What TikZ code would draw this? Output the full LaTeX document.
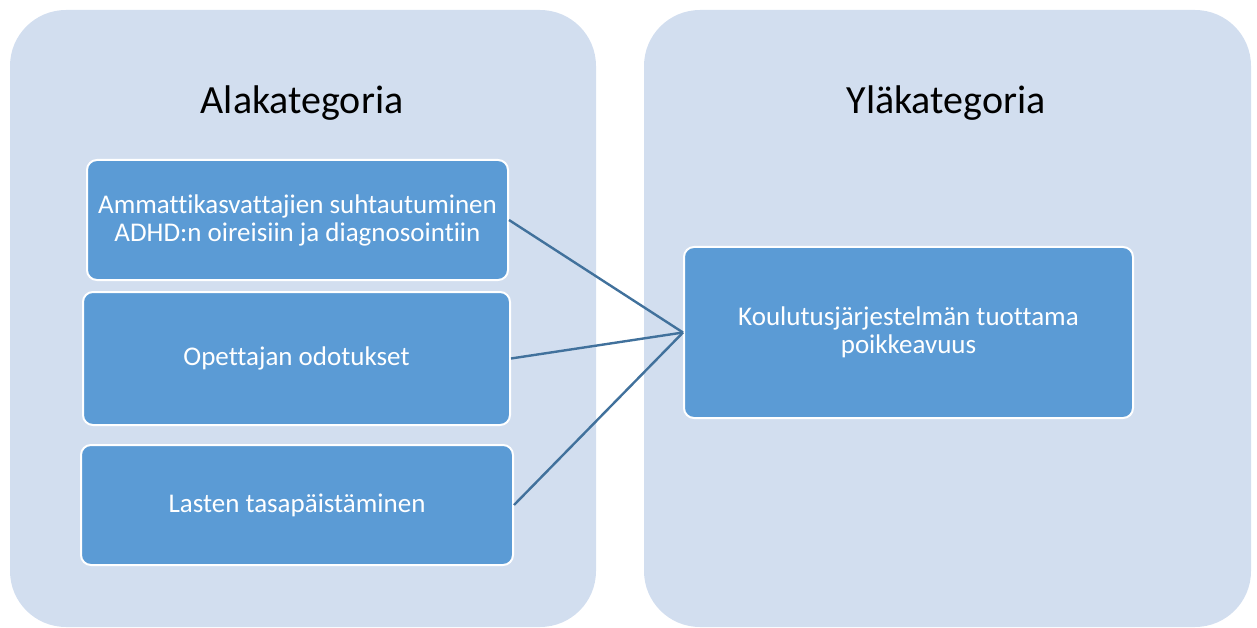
\documentclass[tikz,border=0pt]{standalone}
\usepackage{fontspec}
\setmainfont[Ligatures=NoCommon]{Carlito}
\definecolor{panelfill}{HTML}{D2DEEF}
\definecolor{boxfill}{HTML}{5B9BD5}
\definecolor{linkcol}{HTML}{41719C}
\begin{document}
\begin{tikzpicture}[x=1pt,y=-1pt,
  panel/.style={fill=panelfill, rounded corners=56pt},
  heading/.style={text=black, font=\fontsize{40}{48}\selectfont},
  catbox/.style={draw=white, line width=2pt, fill=boxfill, rounded corners=10pt,
    text=white, align=center, font=\fontsize{27}{28}\selectfont, inner sep=0pt},
  link/.style={draw=linkcol, line width=2.4pt}]
\useasboundingbox (0,0) rectangle (1257,628);
% two background panels
\fill[panel] (10,10) rectangle (596,627);
\fill[panel] (644,10) rectangle (1251,627);
% panel headings
\node[heading] (hleft) at (302,103) {Alakategoria};
\node[heading] (hright) at (946,103) {Yläkategoria};
% subcategory boxes
\node[catbox, minimum width=421pt, minimum height=120pt] (a) at (297.5,220)
  {Ammattikasvattajien suhtautuminen\\ADHD:n oireisiin ja diagnosointiin};
\node[catbox, minimum width=427pt, minimum height=133pt] (b) at (296.5,358.5)
  {Opettajan odotukset};
\node[catbox, minimum width=432pt, minimum height=120pt] (c) at (297,505)
  {Lasten tasapäistäminen};
% main category box
\node[catbox, minimum width=449pt, minimum height=171pt] (k) at (908.5,332.5)
  {Koulutusjärjestelmän tuottama\\poikkeavuus};
% connectors
\draw[link] (a.east) -- (k.west);
\draw[link] (b.east) -- (k.west);
\draw[link] (c.east) -- (k.west);
\end{tikzpicture}
\end{document}
